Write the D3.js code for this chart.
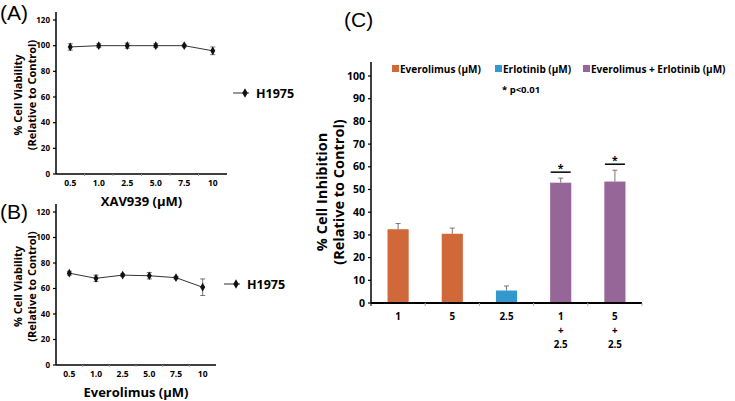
<!DOCTYPE html>
<html>
<head>
<meta charset="utf-8">
<script src="https://cdn.jsdelivr.net/npm/d3@7"></script>
<style>
  body { margin: 0; background: #fff; }
  svg { display: block; font-family: "Open Sans", sans-serif; font-weight: bold; }
</style>
</head>
<body>
<svg id="chart" width="735" height="401"></svg>
<script>
// panel A/B data
const doses = ["0.5", "1.0", "2.5", "5.0", "7.5", "10"];
const xavViability = [99, 100, 100, 100, 100, 96];
const xavError = [2.5, 1.5, 2, 1.5, 1, 3];
const everViability = [72, 68, 70.5, 70, 68.5, 61];
const everError = [1.5, 2.5, 1, 2.5, 1, 6.5];
const viabilityTicks = [0, 20, 40, 60, 80, 100, 120];

// panel C data
const groups = [["1"], ["5"], ["2.5"], ["1", "+", "2.5"], ["5", "+", "2.5"]];
const groupDrug = ["Everolimus (µM)", "Everolimus (µM)", "Erlotinib (µM)", "Everolimus + Erlotinib (µM)", "Everolimus + Erlotinib (µM)"];
const inhibition = [32.5, 30.5, 5.5, 53, 53.5];
const inhibitionError = [2.5, 2.5, 2, 2, 5];
const significant = [false, false, false, true, true];
const drugs = ["Everolimus (µM)", "Erlotinib (µM)", "Everolimus + Erlotinib (µM)"];
const drugColors = ["#d0683a", "#3399cc", "#976699"];
const inhibitionTicks = d3.range(0, 101, 10);

const svg = d3.select("#chart");

function linePanel(opt) {
  const g = svg.append("g");
  const x = d3.scaleBand().domain(doses).range([opt.x0, opt.x1]);
  const y = d3.scaleLinear().domain([0, 120]).range([opt.y0, opt.y1]);

  g.append("line").attr("x1", opt.x0).attr("x2", opt.x0)
    .attr("y1", opt.y0).attr("y2", opt.y1 - 8).attr("stroke", "#000").attr("stroke-width", 1.5);
  g.append("line").attr("x1", opt.x0).attr("x2", opt.x1)
    .attr("y1", opt.y0).attr("y2", opt.y0).attr("stroke", "#000").attr("stroke-width", 1.5);

  g.selectAll(".yt").data(viabilityTicks).join("g").attr("class", "yt")
    .each(function (d) {
      const t = d3.select(this);
      t.append("line").attr("x1", opt.x0 - 3).attr("x2", opt.x0)
        .attr("y1", y(d)).attr("y2", y(d)).attr("stroke", "#000").attr("stroke-width", 1.2);
      t.append("text").attr("x", opt.x0 - 6).attr("y", y(d)).attr("dy", "0.35em")
        .attr("text-anchor", "end").attr("font-size", 8).text(d);
    });

  g.selectAll(".xt").data(doses.slice(1)).join("line").attr("class", "xt")
    .attr("x1", d => x(d)).attr("x2", d => x(d))
    .attr("y1", opt.y0).attr("y2", opt.y0 + 2).attr("stroke", "#999");

  g.selectAll(".xl").data(doses).join("text").attr("class", "xl")
    .attr("x", d => x(d) + x.bandwidth() / 2).attr("y", opt.y0 + 12)
    .attr("text-anchor", "middle").attr("font-size", 8.5).text(d => d);

  g.append("text").attr("x", (opt.x0 + opt.x1) / 2).attr("y", opt.y0 + 32)
    .attr("text-anchor", "middle").attr("font-size", 13).text(opt.title);

  const cx = d => x(d) + x.bandwidth() / 2;
  const pts = doses.map((d, i) => [cx(d), y(opt.values[i])]);
  g.append("path").attr("d", d3.line()(pts)).attr("fill", "none").attr("stroke", "#333").attr("stroke-width", 1);

  doses.forEach((d, i) => {
    const v = opt.values[i], e = opt.errors[i];
    g.append("line").attr("x1", cx(d)).attr("x2", cx(d))
      .attr("y1", y(v - e)).attr("y2", y(v + e)).attr("stroke", "#555").attr("stroke-width", 0.8);
    [v - e, v + e].forEach(w => g.append("line").attr("x1", cx(d) - 2.5).attr("x2", cx(d) + 2.5)
      .attr("y1", y(w)).attr("y2", y(w)).attr("stroke", "#555").attr("stroke-width", 0.8));
  });
  g.selectAll(".pt").data(pts).join("path").attr("class", "pt")
    .attr("transform", p => `translate(${p[0]},${p[1]})`)
    .attr("d", d3.symbol(d3.symbolDiamond, 22)).attr("fill", "#111");

  // legend
  const ly = opt.legendY;
  g.append("line").attr("x1", opt.legendX).attr("x2", opt.legendX + 16)
    .attr("y1", ly).attr("y2", ly).attr("stroke", "#333");
  g.append("path").attr("transform", `translate(${opt.legendX + 12},${ly})`)
    .attr("d", d3.symbol(d3.symbolDiamond, 26)).attr("fill", "#111");
  g.append("text").attr("x", opt.legendX + 23).attr("y", ly).attr("dy", "0.36em")
    .attr("font-size", 12.5).text("H1975");

  // y title
  const ty = (opt.y0 + opt.y1) / 2 - 2;
  const yt = g.append("text").attr("transform", `translate(29,${ty}) rotate(-90)`)
    .attr("text-anchor", "middle").attr("font-size", 11);
  yt.append("tspan").attr("x", 0).attr("y", -7).text("% Cell Viability");
  yt.append("tspan").attr("x", 0).attr("y", 7).text("(Relative to Control)");

  g.append("text").attr("x", 0).attr("y", opt.labelY).attr("font-size", 21)
    .attr("font-weight", "normal").attr("font-family", "Liberation Sans, sans-serif").text(opt.label);
}

linePanel({ x0: 56, x1: 227, y0: 174, y1: 20, values: xavViability, errors: xavError,
  title: "XAV939 (µM)", legendX: 233, legendY: 93, label: "(A)", labelY: 20 });
linePanel({ x0: 56, x1: 216, y0: 365, y1: 212, values: everViability, errors: everError,
  title: "Everolimus (µM)", legendX: 224, legendY: 284, label: "(B)", labelY: 219 });

// panel C
const gc = svg.append("g");
const cx0 = 371, cx1 = 642, cy0 = 303, cy1 = 76;
const xc = d3.scaleBand().domain(d3.range(groups.length)).range([cx0, cx1]).paddingInner(0.61).paddingOuter(0.305);
const yc = d3.scaleLinear().domain([0, 100]).range([cy0, cy1]);
const color = d3.scaleOrdinal().domain(drugs).range(drugColors);
const xb = d3.scaleBand().domain(d3.range(groups.length)).range([cx0, cx1]);

gc.selectAll(".bar").data(inhibition).join("rect").attr("class", "bar")
  .attr("x", (d, i) => xc(i)).attr("width", xc.bandwidth())
  .attr("y", d => yc(d)).attr("height", d => cy0 - yc(d))
  .attr("fill", (d, i) => color(groupDrug[i]));

inhibition.forEach((v, i) => {
  const c = xc(i) + xc.bandwidth() / 2;
  const top = yc(v + inhibitionError[i]);
  gc.append("line").attr("x1", c).attr("x2", c).attr("y1", yc(v)).attr("y2", top)
    .attr("stroke", "#777").attr("stroke-width", 1);
  gc.append("line").attr("x1", c - 2.5).attr("x2", c + 2.5).attr("y1", top).attr("y2", top)
    .attr("stroke", "#777").attr("stroke-width", 1);
  if (significant[i]) {
    const sy = top - 6;
    gc.append("line").attr("x1", c - 10).attr("x2", c + 10).attr("y1", sy).attr("y2", sy)
      .attr("stroke", "#000").attr("stroke-width", 1.5);
    gc.append("text").attr("x", c).attr("y", sy - 0.5).attr("text-anchor", "middle")
      .attr("font-size", 10.5).text("*");
  }
});

gc.append("line").attr("x1", cx0).attr("x2", cx0).attr("y1", cy0).attr("y2", 62)
  .attr("stroke", "#000").attr("stroke-width", 1.5);
gc.append("line").attr("x1", cx0).attr("x2", cx1).attr("y1", cy0).attr("y2", cy0)
  .attr("stroke", "#000").attr("stroke-width", 2);
inhibitionTicks.forEach(t => {
  gc.append("line").attr("x1", cx0 - 3).attr("x2", cx0).attr("y1", yc(t)).attr("y2", yc(t))
    .attr("stroke", "#000").attr("stroke-width", 1.2);
  gc.append("text").attr("x", cx0 - 6).attr("y", yc(t)).attr("dy", "0.35em")
    .attr("text-anchor", "end").attr("font-size", 10.5).text(t);
});
d3.range(groups.length + 1).forEach(i => {
  const xx = i < groups.length ? xb(i) : cx1;
  gc.append("line").attr("x1", xx).attr("x2", xx).attr("y1", cy0).attr("y2", cy0 + 3)
    .attr("stroke", i === 0 ? "#000" : "#aaa");
});
groups.forEach((lines, i) => {
  const c = xc(i) + xc.bandwidth() / 2;
  lines.forEach((s, k) => gc.append("text").attr("x", c).attr("y", 320 + k * 14)
    .attr("text-anchor", "middle").attr("font-size", 9.8).text(s));
});

const yTitle = gc.append("text").attr("transform", `translate(335,192) rotate(-90)`)
  .attr("text-anchor", "middle").attr("font-size", 14.5);
yTitle.append("tspan").attr("x", 0).attr("y", -8).text("% Cell Inhibition");
yTitle.append("tspan").attr("x", 0).attr("y", 9).text("(Relative to Control)");

// legend
const legendX = [392, 495, 583];
drugs.forEach((d, i) => {
  gc.append("rect").attr("x", legendX[i]).attr("y", 65).attr("width", 7).attr("height", 7).attr("fill", color(d));
  gc.append("text").attr("x", legendX[i] + 8).attr("y", 69).attr("dy", "0.36em")
    .attr("font-size", 10).text(d);
});
gc.append("text").attr("x", 502).attr("y", 90).attr("dy", "0.36em").attr("font-size", 9.5)
  .text("* p<0.01");

gc.append("text").attr("x", 344).attr("y", 27).attr("font-size", 21)
  .attr("font-weight", "normal").attr("font-family", "Liberation Sans, sans-serif").text("(C)");
</script>
</body>
</html>
